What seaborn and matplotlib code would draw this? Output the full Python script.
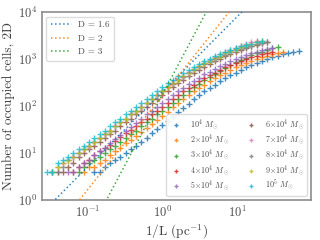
import numpy as np
import pandas as pd
import matplotlib
matplotlib.use("Agg")
import matplotlib.pyplot as plt
import seaborn as sns

na = np.nan

# 1/L grid (pc^-1)
inv_L = [0.0288, 0.0339, 0.0398, 0.0468, 0.0550, 0.0646, 0.0759, 0.0891, 0.105, 0.123,
         0.145, 0.170, 0.200, 0.234, 0.275, 0.324, 0.380, 0.447, 0.525, 0.617,
         0.724, 0.851, 1.00, 1.17, 1.38, 1.62, 1.91, 2.24, 2.63, 3.09,
         3.63, 4.27, 5.01, 5.89, 6.92, 8.13, 9.55, 11.2, 13.2, 15.5,
         18.2, 21.4, 25.1, 29.5, 34.7, 40.7, 47.9, 56.2, 66.1]

n_1e4 = [na]*9 + [4, 4, 5, 6, 7, 8, 10, 12, 14, 17, 21, 26, 32, 39, 48, 59, 73, 90, 112, 139,
                  170, 205, 243, 285, 334, 388, 449, 514, 585, 661, 741, 824, 910, 998, 1086,
                  1175, 1259, 1340, 1416, 1486]
n_2e4 = [na]*7 + [4, 5, 5, 6, 7, 9, 11, 13, 16, 19, 23, 28, 34, 42, 51, 62, 76, 94, 116, 141,
                  172, 205, 243, 285, 334, 388, 449, 514, 585, 661, 741, 824, 910, 998, 1086,
                  1175, 1259, 1340, 1416] + [na]*3
n_3e4 = [na]*6 + [4, 5, 6, 7, 8, 10, 12, 14, 17, 21, 25, 30, 37, 45, 54, 66, 80, 97, 118, 143,
                  173, 208, 250, 297, 352, 415, 486, 564, 651, 745, 847, 954, 1068, 1187, 1309,
                  1435, 1559, 1680, 1800] + [na]*4
n_4e4 = [na]*5 + [4, 5, 6, 7, 9, 11, 13, 15, 18, 22, 26, 31, 37, 45, 54, 66, 80, 97, 118, 143,
                  173, 205, 243, 285, 334, 388, 449, 514, 585, 661, 741, 824, 910, 998, 1086,
                  1175, 1259, 1340, 1416] + [na]*5
n_5e4 = [na]*4 + [4, 4, 5, 6, 7, 9, 11, 13, 16, 20, 24, 29, 36, 44, 54, 66, 80, 97, 118, 143,
                  173, 206, 247, 291, 344, 402, 469, 541, 620, 706, 797, 892, 993, 1097, 1202,
                  1310, 1414, 1517, 1614, 1706] + [na]*5
n_6e4 = [na]*2 + [4, 4, 5, 6, 8, 10, 12, 14, 17, 21, 25, 30, 37, 45, 54, 66, 80, 97, 118, 143,
                  173, 209, 252, 302, 361, 428, 505, 589, 683, 787, 900, 1020, 1148, 1284, 1425,
                  1571, 1717, 1863, 2008, 2147, 2282] + [na]*6
n_7e4 = [na]*1 + [4, 5, 6, 7, 8, 10, 12, 14, 17, 21, 25, 30, 37, 45, 54, 66, 80, 97, 118, 143,
                  173, 211, 256, 309, 372, 443, 527, 619, 724, 840, 967, 1105, 1253, 1411, 1577,
                  1752, 1928, 2109, 2287, 2467] + [na]*8
n_8e4 = [na]*1 + [4, 4, 5, 7, 8, 10, 12, 14, 17, 21, 25, 30, 37, 45, 54, 66, 80, 97, 118, 143,
                  173, 208, 251, 300, 357, 422, 497, 579, 670, 770, 878, 993, 1116, 1244, 1377,
                  1516, 1652, 1788, 1922, 2051, 2173, 2302] + [na]*6
n_9e4 = [na]*1 + [4, 5, 6, 7, 8, 10, 12, 14, 17, 21, 25, 30, 37, 45, 54, 66, 80, 97, 118, 143,
                  173, 210, 254, 304, 364, 433, 512, 599, 697, 804, 922, 1047, 1183, 1324, 1475,
                  1630, 1785, 1942, 2097, 2250, 2396] + [na]*7
n_1e5 = [4, 4, 6, 7, 8, 10, 12, 14, 17, 21, 25, 30, 37, 45, 54, 66, 80, 97, 118, 143,
         173, 209, 252, 302, 360, 427, 503, 587, 681, 785, 896, 1016, 1143, 1278, 1417,
         1563, 1706, 1852, 1994, 2132, 2265, 2402] + [na]*7

series = [n_1e4, n_2e4, n_3e4, n_4e4, n_5e4, n_6e4, n_7e4, n_8e4, n_9e4, n_1e5]
labels = [r"$10^4\ M_\odot$", r"$2{\times}10^4\ M_\odot$", r"$3{\times}10^4\ M_\odot$",
          r"$4{\times}10^4\ M_\odot$", r"$5{\times}10^4\ M_\odot$", r"$6{\times}10^4\ M_\odot$",
          r"$7{\times}10^4\ M_\odot$", r"$8{\times}10^4\ M_\odot$", r"$9{\times}10^4\ M_\odot$",
          r"$10^5\ M_\odot$"]

D_values = [1.6, 2, 3]
D_norm = [200, 165, 175]
D_labels = ["D = 1.6", "D = 2", "D = 3"]

sns.set_theme(style="white")
plt.rcParams["font.family"] = ["cmr10", "DejaVu Serif"]
plt.rcParams["mathtext.fontset"] = "cm"
plt.rcParams["axes.formatter.use_mathtext"] = True
plt.rcParams["axes.unicode_minus"] = False

pal = sns.color_palette("tab10")

fig = plt.figure(figsize=(3.2, 2.4), dpi=100)
ax = fig.add_axes([0.131, 0.167, 0.841, 0.783])

xl = np.geomspace(0.02, 120, 200)
for D, c, lab, col in zip(D_values, D_norm, D_labels, pal[:3]):
    sns.lineplot(x=xl, y=c * xl ** D, ax=ax, color=col, linestyle=":", linewidth=1.1,
                 label=lab, zorder=3, alpha=0.9)

frames = []
for lab, ys in zip(labels, series):
    frames.append(pd.DataFrame({"x": inv_L, "y": ys, "mass": lab}))
df = pd.concat(frames).dropna()

for i, lab in enumerate(labels):
    sub = df[df["mass"] == lab]
    sns.scatterplot(data=sub, x="x", y="y", ax=ax, marker="+", s=24, linewidth=1.0,
                    color=pal[i], label=lab, zorder=2, alpha=0.85)

ax.set_xscale("log")
ax.set_yscale("log")
ax.set_xlim(0.0245, 97)
ax.set_ylim(1, 1e4)
ax.set_xlabel(r"1/L (pc$^{-1}$)", fontsize=9.5, color="0.25", labelpad=2)
ax.set_ylabel("Number of occupied cells, 2D", fontsize=9.5, color="0.25", labelpad=2)
ax.tick_params(axis="both", which="both", direction="in", labelsize=9, colors="0.3")
ax.tick_params(axis="both", which="major", length=3, width=0.7)
ax.tick_params(axis="both", which="minor", length=1.8, width=0.5)
ax.xaxis.set_major_locator(matplotlib.ticker.LogLocator(base=10, numticks=10))
ax.yaxis.set_major_locator(matplotlib.ticker.LogLocator(base=10, numticks=10))
for sp in ax.spines.values():
    sp.set_color("0.55")
    sp.set_linewidth(1.2)

h, l = ax.get_legend_handles_labels()
leg1 = ax.legend(h[:3], l[:3], loc="upper left", fontsize=6.5, frameon=True,
                 framealpha=0.9, edgecolor="0.85", handlelength=2.2, borderpad=0.5,
                 labelspacing=0.55)
for t in leg1.get_texts():
    t.set_color("0.3")
ax.add_artist(leg1)
leg2 = ax.legend(h[3:], l[3:], loc="lower right", ncol=2, fontsize=5.8, frameon=True,
                 framealpha=0.9, edgecolor="0.85", handlelength=1.8, columnspacing=1.8,
                 labelspacing=0.08, borderpad=0.35, markerscale=0.6, handletextpad=0.8)
for t in leg2.get_texts():
    t.set_color("0.3")

fig.savefig("out.png", dpi=100)
